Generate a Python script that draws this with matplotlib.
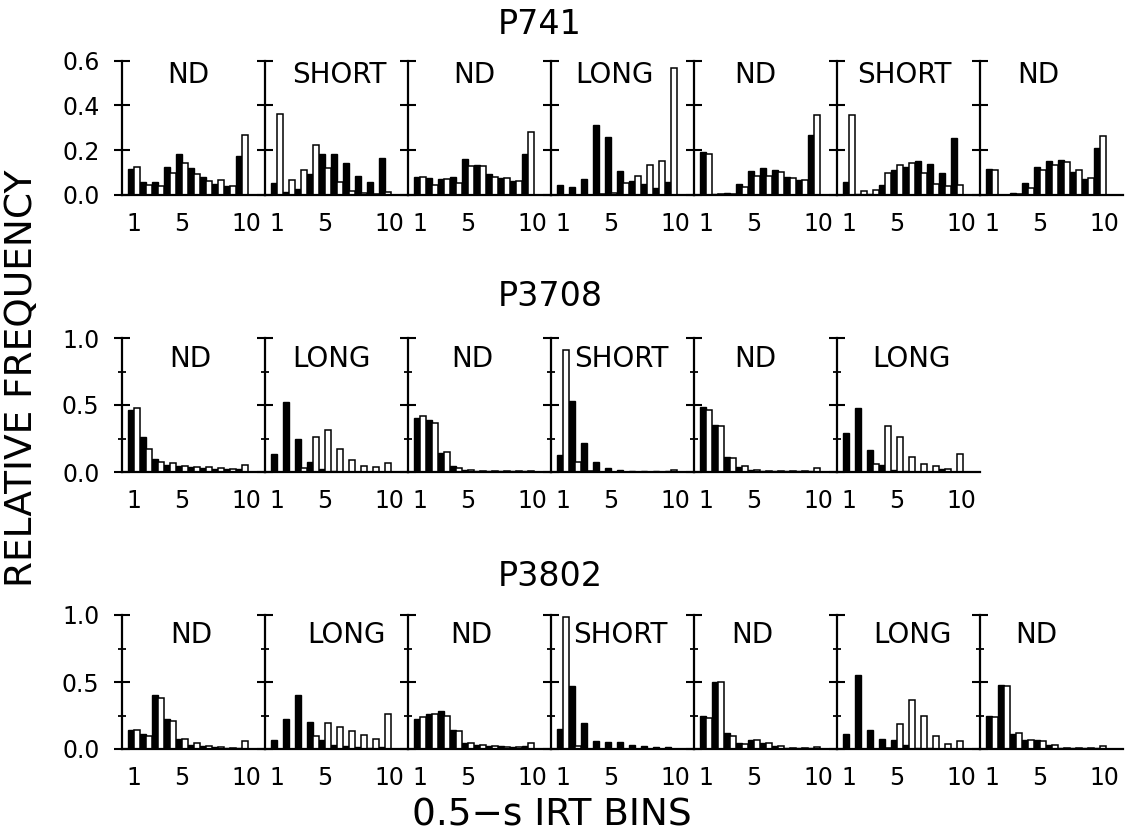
import numpy as np
import matplotlib
matplotlib.use("Agg")
import matplotlib.pyplot as plt
from matplotlib.ticker import MultipleLocator

plt.rcParams['font.family'] = ['DejaVu Sans']

bins = np.arange(1, 11)

# P741 - seven conditions, black = filled bars, white = open bars
p741_cond = ["ND", "SHORT", "ND", "LONG", "ND", "SHORT", "ND"]
p741_black = [
    [0.116, 0.056, 0.059, 0.126, 0.184, 0.120, 0.079, 0.050, 0.039, 0.175],
    [0.052, 0.015, 0.027, 0.093, 0.182, 0.185, 0.141, 0.084, 0.059, 0.167],
    [0.079, 0.074, 0.071, 0.080, 0.163, 0.136, 0.093, 0.074, 0.061, 0.185],
    [0.044, 0.034, 0.073, 0.311, 0.259, 0.107, 0.064, 0.047, 0.033, 0.059],
    [0.193, 0.005, 0.010, 0.049, 0.107, 0.121, 0.112, 0.082, 0.066, 0.267],
    [0.060, 0.003, 0.003, 0.046, 0.112, 0.127, 0.152, 0.140, 0.100, 0.254],
    [0.118, 0.000, 0.010, 0.052, 0.127, 0.152, 0.155, 0.103, 0.073, 0.209],
]
p741_white = [
    [0.126, 0.044, 0.039, 0.099, 0.144, 0.093, 0.064, 0.068, 0.039, 0.267],
    [0.360, 0.067, 0.111, 0.222, 0.121, 0.059, 0.019, 0.010, 0.006, 0.012],
    [0.082, 0.044, 0.070, 0.055, 0.129, 0.129, 0.081, 0.078, 0.064, 0.281],
    [0.000, 0.000, 0.000, 0.005, 0.010, 0.055, 0.084, 0.136, 0.154, 0.567],
    [0.181, 0.005, 0.005, 0.037, 0.084, 0.084, 0.104, 0.078, 0.067, 0.358],
    [0.357, 0.016, 0.021, 0.100, 0.133, 0.145, 0.097, 0.048, 0.040, 0.045],
    [0.112, 0.000, 0.005, 0.031, 0.112, 0.134, 0.149, 0.112, 0.078, 0.264],
]

# P3708 - six conditions
p3708_cond = ["ND", "LONG", "ND", "SHORT", "ND", "LONG"]
p3708_black = [
    [0.459, 0.259, 0.097, 0.052, 0.045, 0.040, 0.032, 0.022, 0.020, 0.022],
    [0.132, 0.519, 0.247, 0.072, 0.020, 0.005, 0.003, 0.003, 0.003, 0.003],
    [0.400, 0.389, 0.145, 0.043, 0.015, 0.010, 0.005, 0.005, 0.005, 0.005],
    [0.130, 0.529, 0.218, 0.073, 0.030, 0.018, 0.005, 0.005, 0.005, 0.005],
    [0.484, 0.353, 0.115, 0.035, 0.018, 0.005, 0.005, 0.005, 0.005, 0.005],
    [0.294, 0.476, 0.162, 0.050, 0.015, 0.005, 0.000, 0.000, 0.020, 0.000],
]
p3708_white = [
    [0.474, 0.170, 0.077, 0.065, 0.045, 0.040, 0.040, 0.027, 0.022, 0.052],
    [0.000, 0.000, 0.027, 0.264, 0.314, 0.170, 0.090, 0.047, 0.035, 0.070],
    [0.419, 0.364, 0.150, 0.030, 0.012, 0.008, 0.005, 0.005, 0.005, 0.005],
    [0.912, 0.073, 0.010, 0.000, 0.000, 0.000, 0.000, 0.000, 0.000, 0.018],
    [0.459, 0.341, 0.105, 0.043, 0.018, 0.005, 0.005, 0.005, 0.005, 0.030],
    [0.000, 0.000, 0.057, 0.344, 0.262, 0.115, 0.057, 0.045, 0.025, 0.137],
]

# P3802 - seven conditions
p3802_cond = ["ND", "LONG", "ND", "SHORT", "ND", "LONG", "ND"]
p3802_black = [
    [0.139, 0.114, 0.400, 0.223, 0.074, 0.032, 0.020, 0.015, 0.005, 0.010],
    [0.069, 0.223, 0.404, 0.200, 0.069, 0.030, 0.020, 0.012, 0.008, 0.012],
    [0.223, 0.263, 0.285, 0.145, 0.045, 0.032, 0.020, 0.020, 0.015, 0.020],
    [0.147, 0.471, 0.195, 0.057, 0.052, 0.052, 0.032, 0.022, 0.015, 0.015],
    [0.244, 0.501, 0.117, 0.045, 0.065, 0.045, 0.025, 0.010, 0.005, 0.005],
    [0.112, 0.553, 0.144, 0.074, 0.069, 0.032, 0.010, 0.005, 0.000, 0.000],
    [0.248, 0.479, 0.112, 0.065, 0.065, 0.030, 0.010, 0.005, 0.005, 0.005],
]
p3802_white = [
    [0.144, 0.094, 0.380, 0.206, 0.074, 0.045, 0.020, 0.015, 0.005, 0.057],
    [0.000, 0.000, 0.000, 0.099, 0.194, 0.161, 0.136, 0.102, 0.077, 0.260],
    [0.236, 0.263, 0.244, 0.135, 0.042, 0.027, 0.020, 0.015, 0.015, 0.042],
    [0.983, 0.020, 0.000, 0.000, 0.000, 0.000, 0.000, 0.000, 0.000, 0.000],
    [0.234, 0.501, 0.097, 0.040, 0.065, 0.045, 0.020, 0.010, 0.005, 0.015],
    [0.000, 0.000, 0.000, 0.010, 0.189, 0.367, 0.248, 0.094, 0.037, 0.062],
    [0.236, 0.467, 0.119, 0.065, 0.062, 0.032, 0.010, 0.005, 0.005, 0.020],
]

# layout (pixels of a 1128x834 figure)
W, H = 1128, 834
x0, pw = 122, 143
label_x = [
    [5.5, 6.2, 5.5, 5.3, 5.1, 5.6, 4.9],
    [5.7, 5.5, 5.4, 5.9, 5.1, 6.2],
    [5.8, 6.8, 5.3, 5.8, 4.9, 6.25, 4.7],
]
rows = [
    # title, conds, black, white, ymax, y0px, y1px, title y, label y, major, minor
    ("P741", p741_cond, p741_black, p741_white, 0.6, 195, 60.7, 24, 0.89, 0.2, None),
    ("P3708", p3708_cond, p3708_black, p3708_white, 1.0, 472, 338, 297, 0.84, 0.5, 0.25),
    ("P3802", p3802_cond, p3802_black, p3802_white, 1.0, 749, 615, 576, 0.85, 0.5, 0.25),
]

fig = plt.figure(figsize=(W / 100, H / 100), dpi=100)
bw = 0.46

for r, (title, conds, black, white, ymax, y0, y1, ty, ly, major, minor) in enumerate(rows):
    for i, cond in enumerate(conds):
        ax = fig.add_axes([(x0 + i * pw) / W, 1 - y0 / H, pw / W, (y0 - y1) / H])
        ax.bar(bins - bw, black[i], width=bw, align='edge', color='black',
               edgecolor='black', linewidth=1.0)
        ax.bar(bins, white[i], width=bw, align='edge', color='white',
               edgecolor='black', linewidth=1.1)
        ax.set_xlim(0, pw / 12)
        ax.set_ylim(0, ymax)
        ax.patch.set_alpha(0)
        for s in ['top', 'right']:
            ax.spines[s].set_visible(False)
        ax.spines['left'].set_linewidth(1.6)
        ax.spines['bottom'].set_linewidth(1.6)
        ax.yaxis.set_major_locator(MultipleLocator(major))
        if minor:
            ax.yaxis.set_minor_locator(MultipleLocator(minor))
        ax.tick_params(axis='y', which='major', direction='inout', length=11.5,
                       width=1.5, labelsize=17, pad=10.5)
        ax.tick_params(axis='y', which='minor', direction='inout', length=6,
                       width=1.3)
        if i == 0:
            ax.set_yticklabels([f"{v:.1f}" for v in ax.get_yticks()])
        else:
            ax.tick_params(axis='y', labelleft=False)
        ax.set_xticks([1, 5, 10.4])
        ax.set_xticklabels(["1", "5", "10"])
        ax.tick_params(axis='x', length=0, labelsize=17, pad=12)
        ax.text(label_x[r][i], ly * ymax, cond, ha='center', va='center',
                fontsize=20)
    fig.text(498 / W, 1 - ty / H, title, ha='left', va='center', fontsize=24)

fig.text(22 / W, 1 - 378 / H, "RELATIVE FREQUENCY", rotation=90,
         ha='center', va='center', fontsize=27)
fig.text(552 / W, 1 - 815 / H, "0.5\u2212s IRT BINS", ha='center',
         va='center', fontsize=27)

fig.savefig("out.png", dpi=100)
